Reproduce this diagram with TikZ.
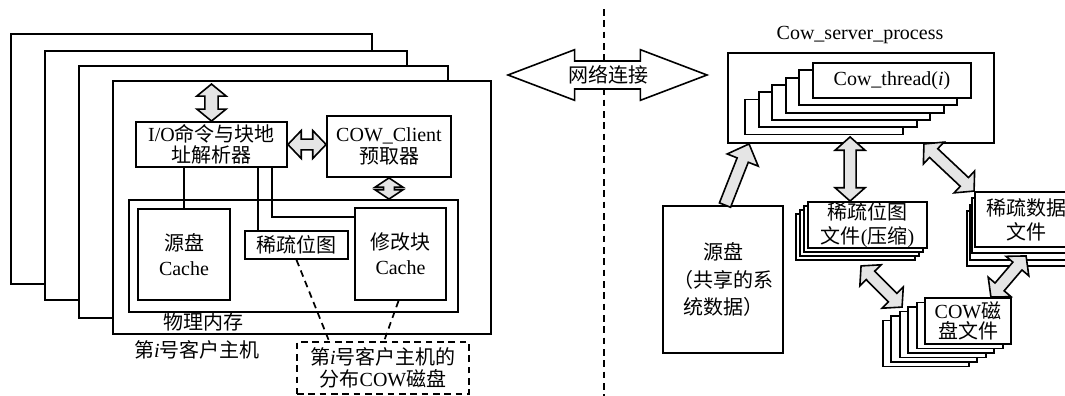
\documentclass[tikz,border=0pt]{standalone}
\usepackage{fontspec}
\setmainfont{Liberation Serif}
\newfontfamily\cjk{Noto Sans CJK SC}
\usetikzlibrary{calc}
\newcommand\zh[1]{{\cjk #1}}
\newcommand\fs[1]{\fontsize{15pt}{#1}\selectfont}
% box: [opts]{name}{x1}{y1}{x2}{y2}{text}
\newcommand\bx[7][]{%
 \pgfmathsetmacro\bxw{((#5)-(#3))*0.75}%
 \pgfmathsetmacro\bxh{((#6)-(#4))*0.75}%
 \pgfmathsetmacro\bxx{((#3)+(#5))/2}%
 \pgfmathsetmacro\bxy{((#4)+(#6))/2}%
 \node[box,minimum width=\bxw pt,minimum height=\bxh pt,#1] (#2) at (\bxx,\bxy) {#7};}
% double fat arrow: [opts]{A}{B}{shaft half}{head half}{head length}
\newcommand\dbl[6][]{%
 \path ($(#2)!#6!(#3)$) coordinate (q1) ($(#3)!#6!(#2)$) coordinate (q2);
 \draw[fat,#1] (#2) -- ($(q1)!#5!90:(#3)$) -- ($(q1)!#4!90:(#3)$) -- ($(q2)!#4!-90:(#2)$)
  -- ($(q2)!#5!-90:(#2)$) -- (#3) -- ($(q2)!#5!90:(#2)$) -- ($(q2)!#4!90:(#2)$)
  -- ($(q1)!#4!-90:(#3)$) -- ($(q1)!#5!-90:(#3)$) -- cycle;}
% single fat arrow: tail A, head B
\newcommand\sgl[6][]{%
 \path ($(#3)!#6!(#2)$) coordinate (q2);
 \draw[fat,#1] ($(#2)!#4!90:(#3)$) -- ($(q2)!#4!-90:(#2)$) -- ($(q2)!#5!-90:(#2)$) -- (#3)
  -- ($(q2)!#5!90:(#2)$) -- ($(q2)!#4!90:(#2)$) -- ($(#2)!#4!-90:(#3)$) -- cycle;}
\begin{document}
\begin{tikzpicture}[x=0.75pt,y=-0.75pt,
  every node/.style={font=\fs{17pt}},
  box/.style={draw,line width=1.4pt,fill=white,inner sep=0pt,align=center},
  ln/.style={line width=1.4pt},
  fat/.style={draw,line width=1.2pt,fill=black!10,line join=miter},
  dsh/.style={line width=1.3pt,dash pattern=on 5pt off 3.5pt}]
\useasboundingbox (0,0) rectangle (1065,396);

% ---------------- left: client hosts ----------------
\bx{h1}{11}{34}{372}{284}{}
\bx{h2}{45}{51}{407}{300}{}
\bx{h3}{79}{66}{448}{318}{}
\bx{host}{113}{81}{491}{334}{}

\bx[font=\fs{15.5pt}]{io}{136}{122}{287}{167}{I/O\zh{命令与块地}\\\zh{址解析器}}
\bx{cowc}{327}{116}{451}{177}{COW\_Client\\\zh{预取器}}
\bx{mem}{129}{200}{458}{312}{}
\bx[font=\fs{19pt}]{srcc}{138}{209}{230}{300}{\zh{源盘}\\Cache}
\bx[font=\fs{19pt}]{modc}{355}{208}{446}{300}{\zh{修改块}\\Cache}
\bx{bmp}{245}{231}{348}{259}{\zh{稀疏位图}}

\draw[ln] (srcc.north |- io.south) -- (srcc.north);
\coordinate (l1) at ($(io.south east)+(-30,0)$);
\draw[ln] (l1) -- (l1 |- bmp.north);
\coordinate (l2) at ($(io.south east)+(-16,0)$);
\coordinate (l3) at ($(modc.north west)+(0,10)$);
\draw[ln] (l2) -- (l2 |- l3) -- (l3);

\node (memlbl) at (203,322) {\zh{物理内存}};
\node (hostlbl) at (197,350) {\zh{第}\textit{i}\zh{号客户主机}};

\bx[dash pattern=on 5pt off 3.5pt,font=\fs{17pt}]{cowd}{297}{342}{469}{394}{\zh{第}\textit{i}\zh{号客户主机的}\\\zh{分布}COW\zh{磁盘}}
\draw[dsh] (bmp.south) -- ($(cowd.north west)+(33,0)$);
\draw[dsh] ($(modc.south)+(-2,0)$) -- ($(cowd.north west)+(88,0)$);

\coordinate (a1) at ($(io.north)+(0,-37)$);
\dbl{a1}{io.north}{5pt}{11pt}{9pt}
\coordinate (a2) at (cowc.west |- io.east);
\dbl{io.east}{a2}{4pt}{10.5pt}{10pt}
\coordinate (a3) at (cowc.south |- mem.north);
\dbl{cowc.south}{a3}{4pt}{10.5pt}{7pt}

% ---------------- middle ----------------
\draw[dsh] (604,9) -- (604,396);
\coordinate (n1) at (508,75);
\coordinate (n2) at (707,75);
\dbl[fill=white]{n1}{n2}{10.5pt}{19pt}{50pt}
\node (net) at (608,75) {\zh{网络连接}};

% ---------------- right: server ----------------
\node (srvlbl) at (860,35) {Cow\_server\_process};
\bx{srv}{728}{53}{994}{143}{}
\foreach \k in {5,...,1}{
  \bx{t\k}{813-13.6*\k}{63+7.3*\k}{971-13.6*\k}{98+7.3*\k}{}
}
\bx{thr}{813}{63}{971}{98}{Cow\_thread(\textit{i})}

\bx[font=\fs{20.5pt}]{src}{663}{206}{783}{353}{\zh{源盘}\\\zh{（共享的系}\\\zh{统数据）}}

\foreach \k in {3,...,1}{
  \bx{b\k}{808-4*\k}{202+4*\k}{927-4*\k}{248+4*\k}{}
}
\bx[font=\fs{18pt}]{bf}{808}{202}{927}{248}{\zh{稀疏位图}\\\zh{文件}(\zh{压缩})}

\foreach \k in {3,...,1}{
  \bx{s\k}{975-2.7*\k}{192+6.3*\k}{1077-2.7*\k}{247+6.3*\k}{}
}
\bx[font=\fs{18pt}]{sd}{975}{192}{1077}{247}{\zh{稀疏数据}\\\zh{文件}}

\foreach \k in {5,...,1}{
  \bx{c\k}{925-8.4*\k}{298+4.5*\k}{1011-8.4*\k}{344+4.5*\k}{}
}
\bx[font=\fs{15.5pt}]{cd}{925}{298}{1011}{344}{COW\zh{磁}\\\zh{盘文件}}

% arrows
\coordinate (s1) at ($(src.north)+(2,0)$);
\coordinate (s2) at ($(srv.south west)+(22,0)$);
\sgl{s1}{s2}{4.5pt}{12.5pt}{13pt}

\coordinate (v1) at ($(srv.south west)+(123,-7)$);
\coordinate (v2) at ($(bf.north west)+(43,0)$);
\dbl{v1}{v2}{4.5pt}{11.25pt}{10pt}

\coordinate (d1) at ($(srv.south east)+(-71,0)$);
\dbl{d1}{sd.north west}{4.5pt}{11.25pt}{10pt}

\coordinate (e1) at ($(bf.south west)+(54,17)$);
\coordinate (e2) at ($(cd.north west)+(-22,10)$);
\dbl{e1}{e2}{4.5pt}{11.25pt}{10pt}

\coordinate (f1) at ($(sd.south west)+(52,8)$);
\coordinate (f2) at ($(cd.north east)+(-21,0)$);
\dbl{f1}{f2}{4.5pt}{11.25pt}{10pt}
\end{tikzpicture}
\end{document}
